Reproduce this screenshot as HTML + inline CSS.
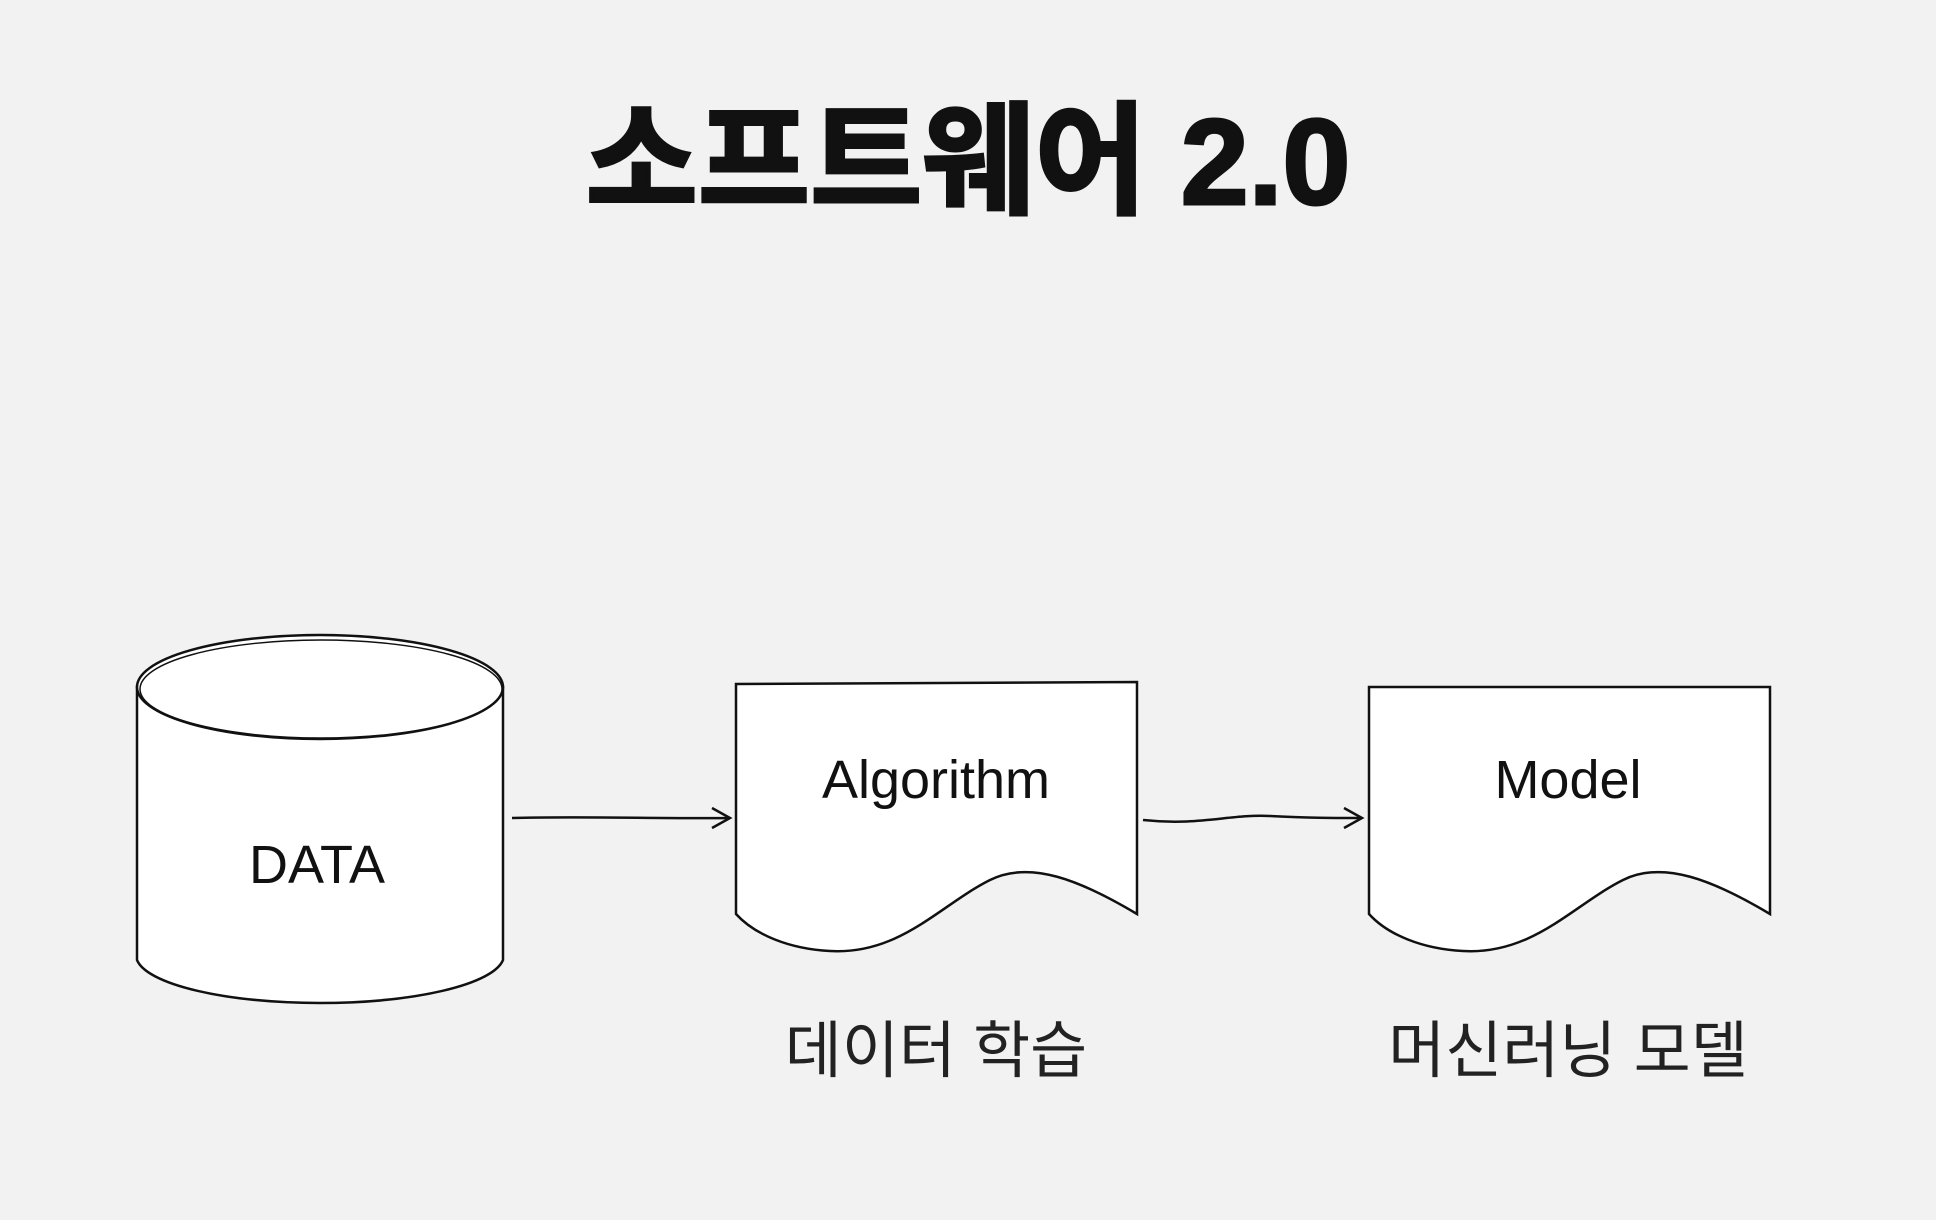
<!DOCTYPE html>
<html><head><meta charset="utf-8"><style>
html,body{margin:0;padding:0;background:#f2f2f2;}
body{width:1936px;height:1220px;overflow:hidden;position:relative;}
svg{position:absolute;left:0;top:0;}
</style></head><body>
<svg width="1936" height="1220" viewBox="0 0 1936 1220">
<text x="968" y="204" text-anchor="middle" font-family="Liberation Sans, Noto Sans CJK KR, sans-serif" font-weight="bold" font-size="122" fill="#111" stroke="#111" stroke-width="3">소프트웨어 2.0</text>
<g fill="#fff" stroke="#111" stroke-width="2.5">
<path d="M137 687 L137 960 A184 48 0 0 0 503 960 L503 687 Z"/>
<ellipse cx="320" cy="687" rx="183" ry="52"/>
<ellipse cx="321" cy="689" rx="181" ry="49" fill="none" stroke-width="1.5"/>
<path d="M736 684 L1137 682 L1137 914 C1080 880 1030 860 990 880 C940 905 900 955 830 951 C790 949 755 935 736 914 Z"/>
<path d="M1369 687 L1770 687 L1770 914 C1713 880 1663 860 1623 880 C1573 905 1533 955 1463 951 C1423 949 1388 935 1369 914 Z"/>
</g>
<g stroke="#111" stroke-width="2.5" fill="none">
<path d="M512 818 C590 816 660 819 728 818"/>
<path d="M712 808 L730 818 L712 828"/>
<path d="M1143 820 C1200 826 1230 814 1270 816 C1310 818 1330 818 1360 818"/>
<path d="M1344 808 L1362 818 L1344 828"/>
</g>
<g font-family="Liberation Sans, sans-serif" font-size="54" fill="#111" text-anchor="middle">
<text x="317" y="883">DATA</text>
<text x="936" y="798">Algorithm</text>
<text x="1568" y="798">Model</text>
</g>
<g font-family="Liberation Sans, Noto Sans CJK KR, sans-serif" font-size="62" fill="#222" text-anchor="middle">
<text x="936" y="1072">데이터 학습</text>
<text x="1568" y="1072">머신러닝 모델</text>
</g>
</svg>
</body></html>
